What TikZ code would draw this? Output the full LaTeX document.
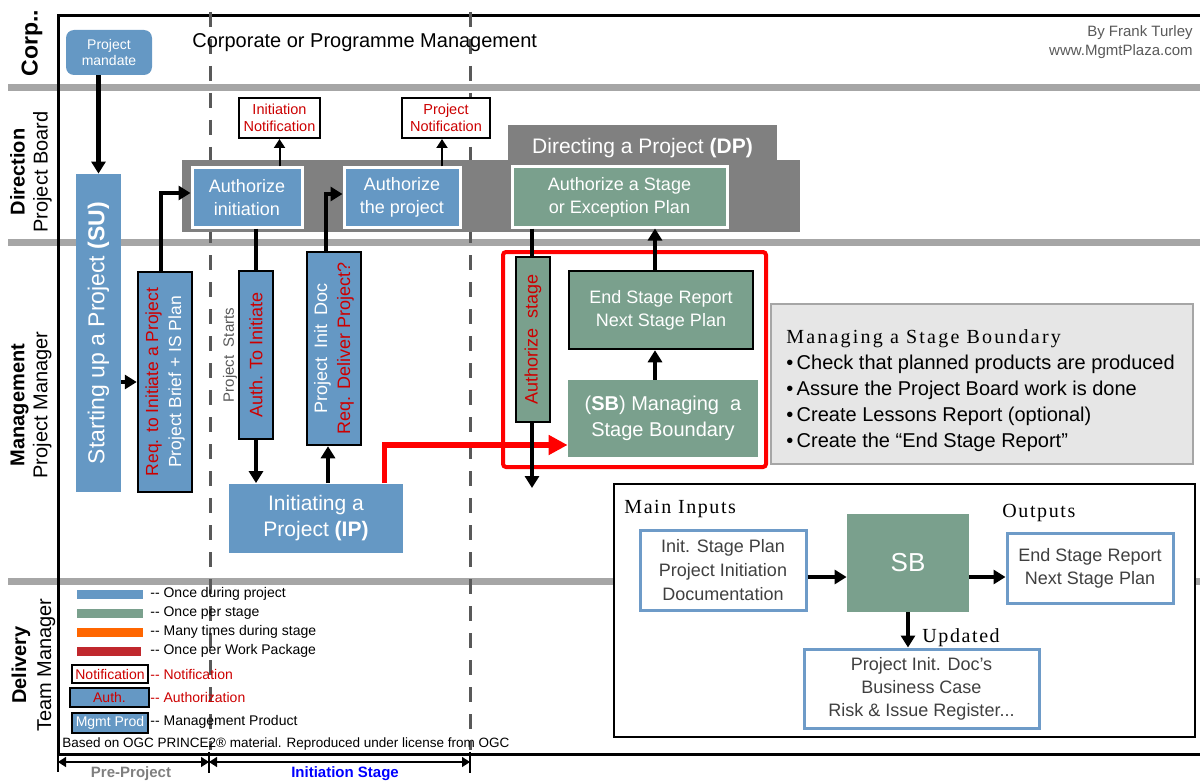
\documentclass[tikz,border=0pt]{standalone}
\usepackage{graphicx}
\usepackage{fontspec}
\setmainfont{Liberation Sans}
\newfontfamily\serifsp[LetterSpace=8]{Liberation Serif}
\newfontfamily\serifspw[LetterSpace=11]{Liberation Serif}
\usetikzlibrary{arrows.meta}
\definecolor{pblue}{RGB}{101,152,196}
\definecolor{pgreen}{RGB}{122,160,141}
\definecolor{dpgray}{RGB}{128,128,128}
\definecolor{sepgray}{RGB}{166,166,166}
\definecolor{dashgray}{RGB}{89,89,89}
\definecolor{txtred}{RGB}{204,0,0}
\definecolor{infofill}{RGB}{230,230,230}
\definecolor{inborder}{RGB}{110,155,200}
\definecolor{darktxt}{RGB}{64,64,64}
\definecolor{lorange}{RGB}{255,102,0}
\definecolor{ldred}{RGB}{192,40,45}
\definecolor{ppgray}{RGB}{127,127,127}
\newcommand{\fs}[2]{\fontsize{#1}{#2}\selectfont}
\begin{document}
\begin{tikzpicture}[x=0.5pt,y=-0.5pt,
  box/.style={rectangle,inner sep=0pt,align=center},
  bluebox/.style={box,fill=pblue,text=white},
  greenbox/.style={box,fill=pgreen,text=white},
  authbox/.style={draw=white,line width=1.5pt},
  blk/.style={draw=black,line width=1.25pt},
  notif/.style={box,fill=white,draw=black,line width=1pt,text=txtred},
  obox/.style={box,fill=white,draw=inborder,line width=1.5pt,text=darktxt},
  arr/.style={draw=black,line width=2.25pt,-{Triangle[length=6pt,width=7pt]}},
  sarr/.style={draw=black,line width=1pt,-{Triangle[length=4.5pt,width=5.5pt]}},
  ln/.style={draw=black,line width=2.25pt},
  redarr/.style={draw=red,line width=2.75pt,-{Triangle[length=9.5pt,width=9.5pt]}},
  sep/.style={draw=sepgray,line width=3.5pt},
  vdash/.style={draw=dashgray,line width=1.5pt,dash pattern=on 7.5pt off 6pt},
  lane/.style={rotate=90,align=center},
  lgtxt/.style={anchor=west,inner sep=0pt,font=\fs{7}{8}},
  dimarr/.style={draw=black,line width=0.75pt,{Triangle[length=4pt,width=5pt]}-{Triangle[length=4pt,width=5pt]}},
  srf/.style={anchor=west,inner sep=0pt}
]
\useasboundingbox (0,0) rectangle (1200,781);
\clip (0,0) rectangle (1200,781);
% lane separators
\draw[sep] (8,88) -- (1200,88);
\draw[sep] (8,242) -- (1200,242);
\draw[sep] (8,581) -- (1200,581);
% frame
\draw[line width=1.5pt] (1215,16) -- (58,16) -- (58,754) -- (1215,754);
% stage borders
\draw[vdash] (210,12) -- (210,750);
\draw[vdash] (470,12) -- (470,750);
% lane labels
\node[lane,font=\bfseries\fs{11.5}{14}] (lcorp) at (32,43) {Corp..};
\node[lane,font=\fs{10}{11.5}] (ldir) at (31,172) {\textbf{Direction}\\Project Board};
\node[lane,font=\fs{10}{11.5}] (lman) at (31,405) {\textbf{Management}\\Project Manager};
\node[lane,font=\fs{10}{12.5}] (ldel) at (33.5,665) {\textbf{Delivery}\\Team Manager};
% top texts
\node[anchor=west,inner sep=0pt,font=\fs{10}{12}] (corp) at (192,43) {Corporate or Programme Management};
\node[anchor=east,align=right,inner sep=0pt,font=\fs{7.5}{9.5},text=dashgray] (author) at (1193,42.5) {By Frank Turley\\www.MgmtPlaza.com};
% DP band
\node[box,fill=dpgray,minimum width=309pt,minimum height=36pt] (dpband) at (491,196) {};
\node[box,fill=dpgray,text=white,minimum width=134.5pt,minimum height=18.5pt,text height=10pt,text depth=0pt,font=\fs{10.5}{12}] (dptab) at (642.5,143.5) {Directing a Project \textbf{(DP)}};
% processes
\node[bluebox,rounded corners=4pt,minimum width=43pt,minimum height=22.5pt,font=\fs{7}{8}] (pm) at (109,52.5) {Project\\mandate};
\node[bluebox,minimum width=22.5pt,minimum height=159pt,font=\fs{11.5}{14}] (su) at (98.5,333) {\rotatebox{90}{Starting up a Project \textbf{(SU)}}};
\node[bluebox,blk,minimum width=27pt,minimum height=110pt,font=\fs{8.75}{11.5}] (req) at (165,382) {\rotatebox{90}{\begin{tabular}{@{}c@{}}\textcolor{txtred}{Req. to Initiate a Project}\\Project Brief + IS Plan\end{tabular}}};
\node[bluebox,authbox,minimum width=55pt,minimum height=29.5pt,font=\fs{9}{11.5}] (ai) at (247,197.5) {Authorize\\initiation};
\node[bluebox,authbox,minimum width=58pt,minimum height=29.5pt,font=\fs{9}{11.5}] (ap) at (402,197.5) {Authorize\\the project};
\node[greenbox,authbox,minimum width=107.5pt,minimum height=30pt,font=\fs{9}{11.5}] (as) at (619.5,197) {Authorize a Stage\\or Exception Plan};
\node[notif,minimum width=40.5pt,minimum height=20pt,font=\fs{7.25}{8.5}] (inot) at (279.5,118) {Initiation\\Notification};
\node[notif,minimum width=44pt,minimum height=20pt,font=\fs{7.25}{8.5}] (pnot) at (446,118) {Project\\Notification};
\node[bluebox,blk,minimum width=17pt,minimum height=84pt,font=\fs{9}{11},text=txtred] (ati) at (256,355) {\rotatebox{90}{Auth. To Initiate}};
\node[bluebox,blk,minimum width=27pt,minimum height=96.5pt,font=\fs{9}{11.5}] (pid) at (334,348.5) {\rotatebox{90}{\begin{tabular}{@{}c@{}}Project\enspace Init\enspace Doc\\\textcolor{txtred}{Req. Deliver Project?}\end{tabular}}};
\node[bluebox,minimum width=87pt,minimum height=34.5pt,font=\fs{10.5}{13}] (ip) at (316,518) {Initiating a\\Project \textbf{(IP)}};
\node[rotate=90,inner sep=0pt,font=\fs{7.5}{9},text=dashgray] (pstart) at (230,355) {Project\ \ Starts};
% connectors
\draw[arr] (pm.south -| su.north) -- (su.north);
\draw[arr] (su.east |- req.center) -- (req.west);
\coordinate (r1) at ([xshift=-2pt]req.north);
\coordinate (a1) at ([yshift=2.25pt]ai.west);
\draw[arr] (r1) |- (a1);
\draw[sarr] (inot.south |- ai.north) -- (inot.south);
\coordinate (p1) at ([xshift=-2pt]pnot.south);
\draw[sarr] (p1 |- ap.north) -- (p1);
\draw[ln] (ai.south -| ati.north) -- (ati.north);
\draw[arr] (ati.south) -- (ati.south |- ip.north);
\coordinate (d1) at ([xshift=-3pt]pid.south);
\draw[arr] (d1 |- ip.north) -- (d1);
\coordinate (d2) at ([xshift=-4pt]pid.north);
\coordinate (a2) at ([yshift=1.75pt]ap.west);
\draw[arr] (d2) |- (a2);
% stage boundary
\node[draw=red,line width=2pt,rounded corners=1.5pt,minimum width=131.5pt,minimum height=107.5pt,inner sep=0pt] (sbframe) at (634.5,359.5) {};
\node[greenbox,blk,minimum width=92pt,minimum height=39pt,font=\fs{9}{11.5}] (esr) at (661,310) {End Stage Report\\Next Stage Plan};
\node[greenbox,minimum width=95pt,minimum height=38.5pt,font=\fs{10}{13}] (sb) at (663,418.5) {(\textbf{SB}) Managing\ \ a\\Stage Boundary};
\coordinate (ip1) at ([xshift=-9.5pt]ip.north east);
\coordinate (sb1) at ([yshift=-13.25pt]sb.west);
\draw[redarr] (ip1) |- (sb1);
\coordinate (asend) at (532,488);
\draw[arr] (as.south -| asend) -- (asend);
\node[greenbox,blk,minimum width=17pt,minimum height=82.5pt,font=\fs{9}{11},text=txtred] (ast) at (533,339.5) {\rotatebox{90}{Authorize\ \ stage}};
\coordinate (e1) at ([xshift=-3pt]esr.south);
\draw[arr] (e1 |- sb.north) -- (e1);
\coordinate (e2) at ([xshift=-3pt]esr.north);
\draw[arr] (e2) -- (e2 |- as.south);
% info box
\node[box,fill=infofill,draw=sepgray,line width=1pt,minimum width=211pt,minimum height=80pt] (info) at (982,384) {};
\node[anchor=west,align=left,inner sep=0pt,font=\fs{10}{13}] (infotxt) at (786,390.5) {{\serifspw Managing a Stage Boundary}\\\textbullet\,Check that planned products are produced\\\textbullet\,Assure the Project Board work is done\\\textbullet\,Create Lessons Report (optional)\\\textbullet\,Create the “End Stage Report”};
% inputs / outputs panel
\node[box,fill=white,draw=black,line width=1pt,minimum width=290.5pt,minimum height=126.5pt] (panel) at (904.5,610.5) {};
\node[srf,font=\serifsp\fs{10}{12}] (mi) at (624,509) {Main Inputs};
\node[srf,font=\serifsp\fs{10}{12}] (mo) at (1002,513) {Outputs};
\node[srf,font=\serifsp\fs{10}{12}] (mu) at (922,638) {Updated};
\node[obox,minimum width=83pt,minimum height=40pt,font=\fs{9}{12}] (inb) at (723,570) {Init. Stage Plan\\Project Initiation\\Documentation};
\node[greenbox,minimum width=61pt,minimum height=49pt,font=\fs{13}{15}] (sbb) at (908,563) {SB};
\node[obox,minimum width=83pt,minimum height=35pt,font=\fs{9}{11.5}] (outb) at (1090,568) {End Stage Report\\Next Stage Plan};
\node[obox,minimum width=117.5pt,minimum height=39.5pt,font=\fs{9}{11.5}] (upd) at (921.5,688.5) {Project Init. Doc's\\Business Case\\Risk \& Issue Register...};
\coordinate (i1) at ([yshift=-3.5pt]inb.east);
\draw[arr] (i1) -- (i1 -| sbb.west);
\coordinate (o1) at ([yshift=-4.5pt]outb.west);
\draw[arr] (o1 -| sbb.east) -- (o1);
\draw[arr] (sbb.south) -- (sbb.south |- upd.north);
% legend
\node[box,fill=pblue,minimum width=33pt,minimum height=4.5pt] (lg1) at (110,594) {};
\node[box,fill=pgreen,minimum width=33pt,minimum height=4.5pt] (lg2) at (110,613) {};
\node[box,fill=lorange,minimum width=33pt,minimum height=4.5pt] (lg3) at (110,632) {};
\node[box,fill=ldred,minimum width=32pt,minimum height=4.5pt] (lg4) at (109,651) {};
\node[lgtxt] (lt1) at (150,594) {-{}- Once during project};
\node[lgtxt] (lt2) at (150,613) {-{}- Once per stage};
\node[lgtxt] (lt3) at (150,632) {-{}- Many times during stage};
\node[lgtxt] (lt4) at (150,651) {-{}- Once per Work Package};
\node[notif,minimum width=38pt,minimum height=9pt,font=\fs{7}{8}] (lgn) at (110,674) {Notification};
\node[bluebox,blk,minimum width=39.5pt,minimum height=9.5pt,font=\fs{7}{8},text=txtred] (lga) at (109.5,697.5) {Auth.};
\node[bluebox,draw=black,line width=1pt,minimum width=38pt,minimum height=10pt,font=\fs{7}{8}] (lgm) at (110,723) {Mgmt Prod};
\node[lgtxt,text=txtred] (lt5) at (150,674) {-{}- Notification};
\node[lgtxt,text=txtred] (lt6) at (150,697) {-{}- Authorization};
\node[lgtxt] (lt7) at (150,722) {-{}- Management Product};
\node[anchor=west,inner sep=0pt,font=\fs{6.75}{8}] (foot) at (62,744) {Based on OGC PRINCE2® material. Reproduced under license from OGC};
% stage dimension
\coordinate (s0) at (58,762);
\coordinate (s1) at (209,762);
\coordinate (s2) at (470,762);
\draw[line width=1pt] (58,754) -- (58,772);
\draw[line width=1pt] (209,752) -- (209,773);
\draw[line width=1pt] (470,752) -- (470,773);
\draw[dimarr] (s0) -- (s1);
\draw[dimarr] (s1) -- (s2);
\node[anchor=base,inner sep=0pt,font=\bfseries\fs{7.5}{9},text=ppgray] (lpre) at (131,777) {Pre-Project};
\node[anchor=base,inner sep=0pt,font=\bfseries\fs{7.5}{9},text=blue] (lini) at (345,777) {Initiation Stage};
\end{tikzpicture}
\end{document}
